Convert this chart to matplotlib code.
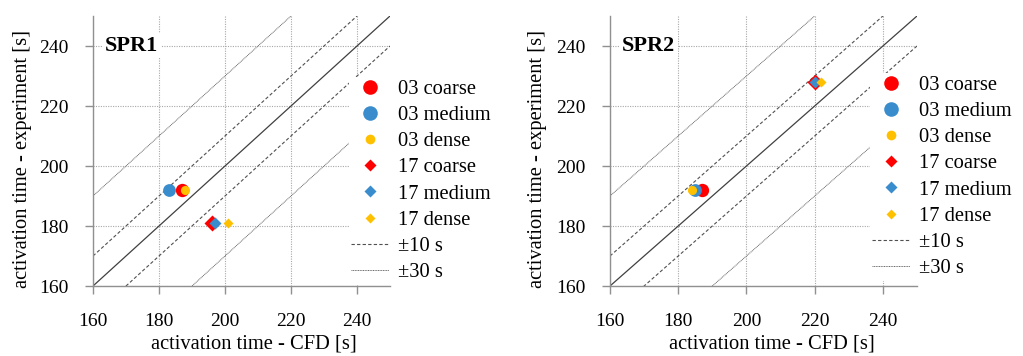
import matplotlib
matplotlib.use("Agg")
import matplotlib.pyplot as plt
from matplotlib.lines import Line2D

plt.rcParams['font.family'] = ['Liberation Serif', 'DejaVu Serif']

# mesh series: label, marker, colour, marker size (pt) in plot and legend
labels = ["03 coarse", "03 medium", "03 dense", "17 coarse", "17 medium", "17 dense"]
markers = ["o", "o", "o", "D", "D", "D"]
colors = ["#FF0000", "#3A8DCD", "#FFC000", "#FF0000", "#3A8DCD", "#FFC000"]
sizes = [9.6, 9.2, 6.6, 8.6, 6.4, 5.2]
leg_sizes = [10.5, 10.5, 7.0, 6.6, 6.0, 5.6]

# activation times [s]
spr1_cfd = [187, 183, 188, 196, 197, 201]
spr1_exp = [192, 192, 192, 181, 181, 181]
spr2_cfd = [187, 185, 184, 220, 220, 222]
spr2_exp = [192, 192, 192, 228, 228, 228]

ticks = [160, 180, 200, 220, 240]
lims = (160, 250)
offsets_10 = [-10, 10]
offsets_30 = [-30, 30]

fig = plt.figure(figsize=(10.23, 3.56), dpi=100)
W, H = 1023, 356

DASH = (0, (3, 2))
DOT = (0, (1, 0.7))


def px_axes(x0, x1, y0, y1):
    return fig.add_axes([x0 / W, 1 - y1 / H, (x1 - x0) / W, (y1 - y0) / H])


def draw_panel(ax, cfd, exp, title, legend_xy, xlabel_x):
    xs = list(lims)
    ax.plot(xs, xs, color="#404040", lw=0.9, zorder=2)
    for o in offsets_10:
        ax.plot(xs, [v + o for v in xs], color="#505050", lw=0.8, ls=DASH, zorder=2)
    for o in offsets_30:
        ax.plot(xs, [v + o for v in xs], color="#666666", lw=0.7, ls=DOT, zorder=2)

    # coarse below, dense on top
    for i in range(len(labels)):
        ax.plot(cfd[i], exp[i], ls="none", marker=markers[i], ms=sizes[i],
                color=colors[i], mec="none", zorder=3 + i)

    ax.set_xlim(*lims)
    ax.set_ylim(*lims)
    ax.set_xticks(ticks)
    ax.set_yticks(ticks)
    ax.grid(True, color="#a8a8a8", lw=0.8, ls=(0, (1, 1.2)))
    ax.set_axisbelow(True)
    for s in ("top", "right"):
        ax.spines[s].set_visible(False)
    for s in ("left", "bottom"):
        ax.spines[s].set_color("#909090")
        ax.spines[s].set_linewidth(1.0)
        ax.spines[s].set_zorder(30)
    ax.tick_params(axis="both", direction="out", length=5.5, width=1.0,
                   color="#909090", labelsize=14)
    ax.tick_params(axis="x", pad=14)
    ax.tick_params(axis="y", pad=12)

    ax.set_xlabel("activation time - CFD [s]", fontsize=14.8)
    ax.xaxis.set_label_coords(xlabel_x, -0.178)
    ax.set_ylabel("activation time - experiment [s]", fontsize=14.8)
    ax.yaxis.set_label_coords(-0.205, 0.47)
    ax.text(0.04, 0.89, title, transform=ax.transAxes, fontsize=16,
            fontweight="bold", va="center", ha="left", zorder=10,
            bbox=dict(facecolor="white", edgecolor="none", pad=2))

    handles = []
    for i in range(len(labels)):
        handles.append(Line2D([], [], ls="none", marker=markers[i],
                              ms=leg_sizes[i], color=colors[i], mec="none"))
    handles.append(Line2D([], [], color="#505050", lw=0.8, ls=DASH))
    handles.append(Line2D([], [], color="#666666", lw=0.7, ls=DOT))
    leg = ax.legend(handles, labels + ["±10 s", "±30 s"], loc="upper left",
                    bbox_to_anchor=(legend_xy[0] / W, 1 - legend_xy[1] / H),
                    bbox_transform=fig.transFigure, frameon=True,
                    fontsize=14.8, handlelength=1.85, handletextpad=0.4,
                    labelspacing=0.33, borderpad=0.12, borderaxespad=0)
    leg.get_frame().set_facecolor("white")
    leg.get_frame().set_edgecolor("none")
    leg.get_frame().set_alpha(1)
    leg.set_zorder(20)


ax1 = px_axes(93, 390, 16, 286)
ax2 = px_axes(610, 917, 16, 286)
draw_panel(ax1, spr1_cfd, spr1_exp, "SPR1", (349, 77), 0.54)
draw_panel(ax2, spr2_cfd, spr2_exp, "SPR2", (870, 73), 0.528)

fig.savefig("out.png", dpi=100)
